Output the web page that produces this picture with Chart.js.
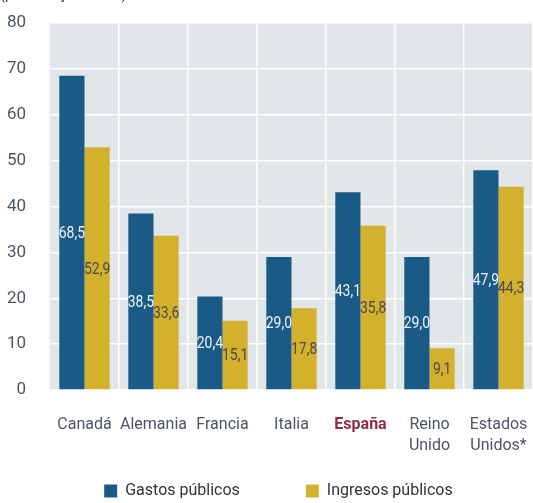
<!DOCTYPE html>
<html>
<head>
<meta charset="utf-8">
<script src="https://cdn.jsdelivr.net/npm/chart.js@4/dist/chart.umd.min.js"></script>
<style>
html,body{margin:0;padding:0;background:#fff;}
#wrap{width:533px;height:503px;position:relative;}
</style>
</head>
<body>
<div id="wrap"><canvas id="c" width="533" height="503"></canvas></div>
<script>
const categories = [["Canadá"], ["Alemania"], ["Francia"], ["Italia"], ["España"], ["Reino", "Unido"], ["Estados", "Unidos*"]];
const gastos = [68.5, 38.5, 20.4, 29.0, 43.1, 29.0, 47.9];
const ingresos = [52.9, 33.6, 15.1, 17.8, 35.8, 9.1, 44.3];
const seriesNames = ["Gastos públicos", "Ingresos públicos"];
const yTicks = [0, 10, 20, 30, 40, 50, 60, 70, 80];
const topNote = "(porcentaje del PIB)";

const FONT = "Roboto, 'Noto Sans', sans-serif";
const BLUE = '#1a5a86';
const YELLOW = '#d4b12c';

const bgPlugin = {
  id: 'bg',
  beforeDraw(chart) {
    const {ctx, chartArea: a} = chart;
    ctx.save();
    ctx.fillStyle = '#e1e6e9';
    ctx.fillRect(a.left, a.top, a.right - a.left, a.bottom - a.top);
    ctx.restore();
  },
  afterDraw(chart) {
    const ctx = chart.ctx;
    ctx.save();
    ctx.fillStyle = '#3c4650';
    ctx.font = "17px " + FONT;
    ctx.textBaseline = 'alphabetic';
    ctx.textAlign = 'left';
    ctx.scale(0.85, 1);
    ctx.fillText(topNote, 0, -1);
    ctx.restore();
  }
};

const labelPlugin = {
  id: 'vlabels',
  afterDatasetsDraw(chart) {
    const ctx = chart.ctx;
    ctx.save();
    ctx.font = "17px " + FONT;
    ctx.textAlign = 'center';
    ctx.textBaseline = 'middle';
    chart.data.datasets.forEach((ds, di) => {
      const meta = chart.getDatasetMeta(di);
      meta.data.forEach((bar, i) => {
        const v = ds.data[i];
        const txt = v.toFixed(1).replace('.', ',');
        ctx.fillStyle = di === 0 ? '#eef3f8' : '#4a4a48';
        ctx.save();
        ctx.translate(bar.x, (bar.y + bar.base) / 2 + 1);
        ctx.scale(0.82, 1);
        ctx.fillText(txt, 0, 0);
        ctx.restore();
      });
    });
    ctx.restore();
  }
};

new Chart(document.getElementById('c'), {
  type: 'bar',
  data: {
    labels: categories,
    datasets: [
      {label: seriesNames[0] + "\u2003\u2003\u2003\u2009\u2009\u2009\u2009", data: gastos, backgroundColor: BLUE, borderWidth: 0},
      {label: seriesNames[1] + "\u2003\u2009\u2009\u2009", data: ingresos, backgroundColor: YELLOW, borderWidth: 0}
    ]
  },
  options: {
    responsive: false,
    animation: false,
    devicePixelRatio: 1,
    layout: {autoPadding: false, padding: {top: 23, right: 0, left: 0, bottom: -6}},
    datasets: {bar: {categoryPercentage: 0.73, barPercentage: 1.0}},
    plugins: {
      tooltip: {enabled: false},
      legend: {
        position: 'bottom',
        fullSize: false,
        labels: {
          boxWidth: 13, boxHeight: 13,
          padding: 4,
          color: '#333333',
          font: {family: FONT, size: 16}
        }
      }
    },
    scales: {
      x: {
        grid: {color: '#ffffff', lineWidth: 1.5, drawTicks: false, offset: true},
        border: {display: false},
        ticks: {
          padding: 24,
          autoSkip: false,
          maxRotation: 0,
          color: (c) => c.index === 4 ? '#8b2e45' : '#4a5664',
          font: (c) => ({family: FONT, size: 16, weight: c.index === 4 ? 'bold' : 'normal', lineHeight: 1.35})
        },
        afterFit(s) { s.height = 89; s.paddingLeft = 0; s.paddingRight = 0; s.paddingTop = 0; s.paddingBottom = 0; }
      },
      y: {
        min: 0, max: 80,
        afterBuildTicks(s) { s.ticks = yTicks.map(v => ({value: v})); },
        grid: {color: '#ffffff', lineWidth: 1.5, drawTicks: false},
        border: {display: true, color: '#edf0f2', width: 2},
        ticks: {
          padding: 24,
          color: '#4a5664',
          font: {family: FONT, size: 17}
        },
        afterFit(s) { s.width = 50; s.paddingLeft = 0; s.paddingRight = 0; s.paddingTop = 0; s.paddingBottom = 0; }
      }
    }
  },
  plugins: [bgPlugin, labelPlugin]
});
</script>
</body>
</html>
